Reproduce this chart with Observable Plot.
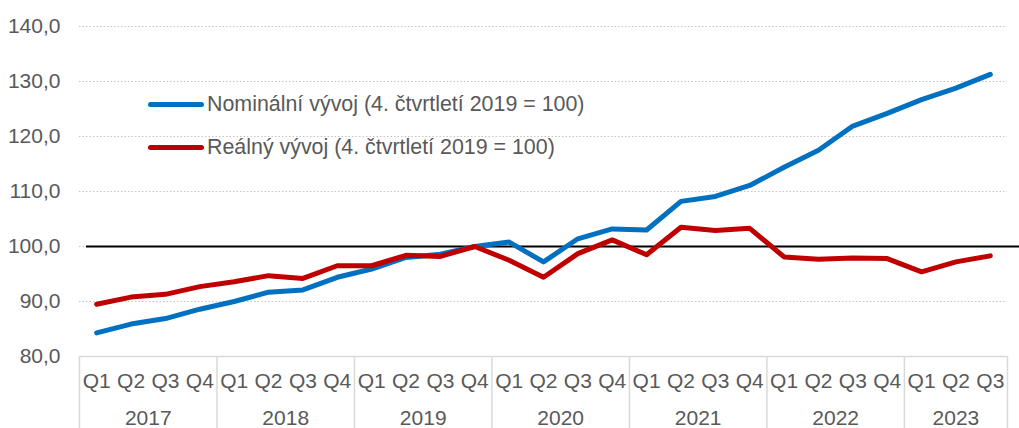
<!DOCTYPE html>
<html>
<head>
<meta charset="utf-8">
<script src="https://cdn.jsdelivr.net/npm/d3@7"></script>
<script src="https://cdn.jsdelivr.net/npm/@observablehq/plot@0.6"></script>
<style>
  html, body { margin: 0; padding: 0; background: #fff; }
  #wrap { position: relative; width: 1019px; height: 428px; font-family: "Liberation Sans", Arial, sans-serif; }
  .legend { position: absolute; left: 148px; color: #595959; font-size: 21.4px; display: flex; align-items: center; white-space: nowrap; line-height: 24px; }
  .sw { display: inline-block; width: 56px; height: 5px; border-radius: 3px; margin-right: 3px; }
</style>
</head>
<body>
<div id="wrap"></div>
<script>
const quarters = ["Q1","Q2","Q3","Q4","Q1","Q2","Q3","Q4","Q1","Q2","Q3","Q4","Q1","Q2","Q3","Q4","Q1","Q2","Q3","Q4","Q1","Q2","Q3","Q4","Q1","Q2","Q3"];
const years = ["2017","2018","2019","2020","2021","2022","2023"];
const yearCenters = [1.5, 5.5, 9.5, 13.5, 17.5, 21.5, 25];
const yearSeparators = [-0.5, 3.5, 7.5, 11.5, 15.5, 19.5, 23.5, 26.5];
const nominal = [84.3, 85.9, 86.9, 88.6, 90.0, 91.7, 92.1, 94.4, 95.9, 98.0, 98.6, 100.0, 100.8, 97.2, 101.4, 103.2, 103.0, 108.2, 109.1, 111.1, 114.4, 117.5, 121.9, 124.2, 126.7, 128.8, 131.3];
const real = [89.5, 90.8, 91.3, 92.7, 93.6, 94.7, 94.2, 96.5, 96.5, 98.4, 98.2, 100.0, 97.5, 94.4, 98.7, 101.2, 98.5, 103.5, 102.9, 103.3, 98.1, 97.7, 97.9, 97.8, 95.4, 97.2, 98.3];
const yTicks = [80, 90, 100, 110, 120, 130, 140];
const seriesNames = ["Nominální vývoj (4. čtvrtletí 2019 = 100)", "Reálný vývoj (4. čtvrtletí 2019 = 100)"];
const seriesColors = ["#0070C0", "#C00000"];

const nomData = nominal.map((v, i) => ({i, v}));
const realData = real.map((v, i) => ({i, v}));

const fmt = d => d.toFixed(1).replace(".", ",");

const chart = Plot.plot({
  width: 1019,
  height: 428,
  marginLeft: 79,
  marginRight: 12,
  marginTop: 26,
  marginBottom: 72,
  style: {fontFamily: "Liberation Sans, Arial, sans-serif", fontSize: "21px", color: "#595959", background: "#fff", overflow: "visible"},
  x: {type: "linear", domain: [-0.5, 26.5], axis: null},
  y: {domain: [80, 140], axis: null},
  marks: [
    Plot.gridY({ticks: yTicks.filter(t => t > 80), stroke: "#c4c4c4", strokeOpacity: 1, strokeWidth: 1, strokeDasharray: "1.5,2"}),
    Plot.ruleY([80], {stroke: "#d9d9d9", strokeWidth: 1.5}),
    Plot.axisY({ticks: yTicks, tickSize: 0, tickPadding: 19, tickFormat: fmt, label: null, fontSize: 21}),
    Plot.axisX({ticks: yearSeparators, tickSize: 72, tickFormat: () => "", stroke: "#d9d9d9", strokeWidth: 1.5, label: null}),
    Plot.axisX({ticks: d3.range(quarters.length), tickSize: 0, tickPadding: 17, tickFormat: d => quarters[d], label: null, fontSize: 21}),
    Plot.axisX({ticks: yearCenters, tickSize: 0, tickPadding: 54, tickFormat: d => years[yearCenters.indexOf(d)], label: null, fontSize: 21}),
    Plot.ruleY([100], {stroke: "#000", strokeWidth: 2, insetLeft: 7, insetRight: -12}),
    Plot.line(nomData, {x: "i", y: "v", stroke: seriesColors[0], strokeWidth: 5, strokeLinejoin: "round", strokeLinecap: "round"}),
    Plot.line(realData, {x: "i", y: "v", stroke: seriesColors[1], strokeWidth: 5, strokeLinejoin: "round", strokeLinecap: "round"})
  ]
});

const wrap = document.getElementById("wrap");
wrap.appendChild(chart);
const legendTops = [92, 135];
seriesNames.forEach((name, k) => {
  const d = document.createElement("div");
  d.className = "legend";
  d.style.top = legendTops[k] + "px";
  const sw = document.createElement("span");
  sw.className = "sw";
  sw.style.background = seriesColors[k];
  d.appendChild(sw);
  d.appendChild(document.createTextNode(name));
  wrap.appendChild(d);
});
</script>
</body>
</html>
